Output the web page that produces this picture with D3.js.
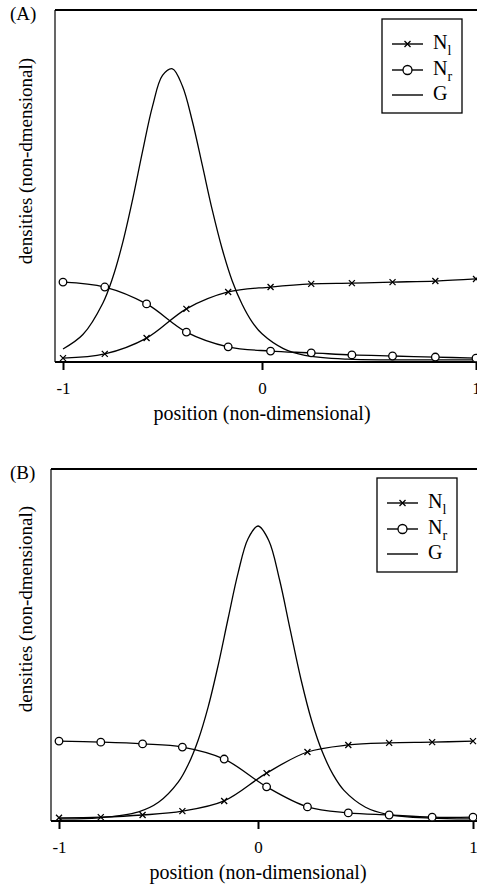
<!DOCTYPE html>
<meta charset="utf-8">
<style>
body { margin: 0; background: #fff; }
svg { display: block; font-family: "Liberation Serif", "Times New Roman", serif; }
.curve { fill: none; stroke: #000; stroke-width: 1.3; }
.frame { stroke: #000; fill: none; }
.tick text { font-size: 17px; font-family: "Liberation Serif", serif; }
.tick line { stroke-width: 2; }
</style>
<svg width="477" height="890"></svg>
<script src="https://d3js.org/d3.v7.min.js"></script>
<script>

var xTicks = [-1, 0, 1];
var markX = [-1, -0.79, -0.58, -0.38, -0.17, 0.04, 0.23, 0.42, 0.61, 0.81, 1];

// panel A
var gxA = [-1, -0.9, -0.8, -0.75, -0.7, -0.65, -0.6, -0.55, -0.5, -0.45, -0.4, -0.35, -0.3, -0.25, -0.2, -0.15, -0.1, -0.05, 0, 0.1, 0.2, 0.4, 0.6, 0.8, 1];
var gA  = [0.037, 0.078, 0.167, 0.240, 0.339, 0.462, 0.599, 0.727, 0.814, 0.833, 0.784, 0.684, 0.559, 0.432, 0.321, 0.231, 0.164, 0.114, 0.080, 0.038, 0.019, 0.008, 0.006, 0.006, 0.006];
var nlA = [0.011, 0.023, 0.068, 0.151, 0.199, 0.213, 0.222, 0.224, 0.227, 0.230, 0.236];
var nrA = [0.227, 0.213, 0.165, 0.085, 0.043, 0.031, 0.026, 0.020, 0.017, 0.014, 0.011];

// panel B
var gxB = [-1, -0.8, -0.6, -0.5, -0.4, -0.35, -0.3, -0.25, -0.2, -0.15, -0.1, -0.05, 0, 0.05, 0.1, 0.15, 0.2, 0.25, 0.3, 0.35, 0.4, 0.5, 0.6, 0.8, 1];
var gB  = [0.006, 0.009, 0.026, 0.053, 0.111, 0.161, 0.231, 0.325, 0.443, 0.576, 0.705, 0.802, 0.838, 0.797, 0.686, 0.543, 0.402, 0.284, 0.195, 0.131, 0.087, 0.039, 0.019, 0.008, 0.006];
var nlB = [0.009, 0.011, 0.017, 0.028, 0.057, 0.136, 0.196, 0.216, 0.222, 0.224, 0.227];
var nrB = [0.227, 0.224, 0.219, 0.210, 0.176, 0.097, 0.040, 0.023, 0.017, 0.011, 0.011];

var svg = d3.select("svg");
var crossPath = "M-3,-3L3,3M-3,3L3,-3";

function drawPanel(p) {
  var x = d3.scaleLinear().domain([-1, 0, 1]).range(p.xr);
  var y = d3.scaleLinear().domain([0, 1]).range([p.bottom, p.top]);
  var g = svg.append("g");

  var line = d3.line()
      .x(function(d) { return x(d[0]); })
      .y(function(d) { return y(d[1]); })
      .curve(d3.curveCatmullRom.alpha(0.5));

  // frame
  g.append("line").attr("class", "frame")
      .attr("x1", p.left).attr("x2", 480).attr("y1", p.top).attr("y2", p.top)
      .attr("stroke-width", 2.2);
  g.append("line").attr("class", "frame")
      .attr("x1", p.left).attr("x2", p.left).attr("y1", p.top).attr("y2", p.bottom)
      .attr("stroke-width", 1.2);
  g.append("line").attr("class", "frame")
      .attr("x1", p.left).attr("x2", 480).attr("y1", p.bottom).attr("y2", p.bottom)
      .attr("stroke-width", 2.2);

  var ax = g.append("g")
      .attr("transform", "translate(0," + p.bottom + ")")
      .call(d3.axisBottom(x).tickValues(xTicks).tickSize(8).tickSizeOuter(0)
        .tickPadding(12).tickFormat(function(d) { return String(d); }));
  ax.select(".domain").remove();

  // curves
  g.append("path").attr("class", "curve")
      .attr("d", line(d3.zip(p.gx, p.g)));
  g.append("path").attr("class", "curve")
      .attr("d", line(d3.zip(markX, p.nl)));
  g.append("path").attr("class", "curve")
      .attr("d", line(d3.zip(markX, p.nr)));

  g.append("g").selectAll("path")
    .data(d3.zip(markX, p.nl))
    .enter().append("path")
      .attr("d", crossPath)
      .attr("transform", function(d) { return "translate(" + x(d[0]) + "," + y(d[1]) + ")"; })
      .attr("stroke", "#000").attr("stroke-width", 1.3);

  g.append("g").selectAll("circle")
    .data(d3.zip(markX, p.nr))
    .enter().append("circle")
      .attr("cx", function(d) { return x(d[0]); })
      .attr("cy", function(d) { return y(d[1]); })
      .attr("r", 3.8)
      .attr("fill", "#fff").attr("stroke", "#000").attr("stroke-width", 1.3);

  // labels
  g.append("text").attr("x", 10).attr("y", p.top + 10)
      .attr("font-size", 19).text(p.name);
  g.append("text")
      .attr("transform", "translate(32," + p.ylabY + ") rotate(-90)")
      .attr("text-anchor", "middle").attr("font-size", 19)
      .text("densities (non-dmensional)");
  g.append("text").attr("x", x(0)).attr("y", p.bottom + 58)
      .attr("text-anchor", "middle").attr("font-size", 20)
      .text("position (non-dimensional)");

  // legend
  var lg = g.append("g").attr("transform", "translate(" + p.legX + "," + p.legY + ")");
  lg.append("rect").attr("width", 80).attr("height", 94)
      .attr("fill", "#fff").attr("stroke", "#000").attr("stroke-width", 1.3);
  var rows = [
    {sub: "l", mark: "x", dy: 25},
    {sub: "r", mark: "o", dy: 51},
    {sub: null, mark: null, dy: 76}
  ];
  rows.forEach(function(r) {
    lg.append("line").attr("x1", 10).attr("x2", 41).attr("y1", r.dy).attr("y2", r.dy)
        .attr("stroke", "#000").attr("stroke-width", 1.4);
    if (r.mark === "x") {
      lg.append("path").attr("d", crossPath)
          .attr("transform", "translate(25.5," + r.dy + ")")
          .attr("stroke", "#000").attr("stroke-width", 1.3);
    } else if (r.mark === "o") {
      lg.append("circle").attr("cx", 25.5).attr("cy", r.dy).attr("r", 4.5)
          .attr("fill", "#fff").attr("stroke", "#000").attr("stroke-width", 1.3);
    }
    var t = lg.append("text").attr("x", 51).attr("y", r.dy + 5).attr("font-size", 20);
    if (r.sub) {
      t.append("tspan").text("N");
      t.append("tspan").attr("font-size", 14).attr("dy", 6).text(r.sub);
    } else {
      t.text("G");
    }
  });
}

drawPanel({name: "(A)", left: 55, top: 10, bottom: 362, xr: [63, 262, 476],
  gx: gxA, g: gA, nl: nlA, nr: nrA, ylabY: 161, legX: 382, legY: 19});
drawPanel({name: "(B)", left: 51, top: 469, bottom: 821, xr: [59, 258, 473],
  gx: gxB, g: gB, nl: nlB, nr: nrB, ylabY: 609, legX: 377, legY: 478});

</script>
